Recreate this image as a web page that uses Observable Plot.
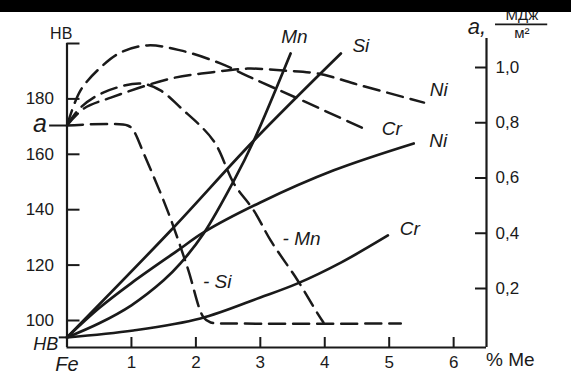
<!DOCTYPE html>
<html><head><meta charset="utf-8">
<script src="https://cdn.jsdelivr.net/npm/d3@7"></script>
<script src="https://cdn.jsdelivr.net/npm/@observablehq/plot@0.6"></script>
<style>
html,body{margin:0;padding:0;background:#fff;}
#wrap{position:relative;width:571px;height:387px;overflow:hidden;}
#bar{position:absolute;left:0;top:0;width:571px;height:12px;background:#000;}
</style></head><body>
<div id="wrap"><div id="chart"></div><div id="bar"></div></div>
<script>
// ---- axis ticks ----
const hbTicks = [100, 120, 140, 160, 180, 200];
const hbTickLabels = ["100", "120", "140", "160", "180", ""];
const aTicks = [0.2, 0.4, 0.6, 0.8, 1.0];
const aTickLabels = ["0,2", "0,4", "0,6", "0,8", "1,0"];
const xTicks = [1, 2, 3, 4, 5, 6];
const xTickLabels = ["1", "2", "3", "4", "5", "6"];

// ---- hardness HB (solid lines), x = % alloying element ----
const mnX = [0, 0.5, 1, 1.5, 1.76, 2.12, 2.59, 2.9, 3.47];
const mnHB = [93.9, 99, 105.5, 114.5, 120.6, 131.4, 150.5, 165.0, 196.4];
const siX = [0, 1.61, 2.9, 4.25];
const siHB = [93.9, 132.5, 165.0, 196.4];
const niX = [0, 0.5, 1, 1.72, 2.12, 3.0, 4.14, 5.38];
const niHB = [93.9, 104.5, 113.5, 125.3, 131.8, 142.6, 154.2, 163.9];
const crX = [0, 1.03, 2.07, 3.0, 3.58, 4.25, 4.98];
const crHB = [93.9, 96.4, 100.7, 108.3, 113.4, 120.9, 130.7];

// ---- impact toughness a, MJ/m2 (dashed lines) ----
const crAX = [0, 0.21, 0.52, 0.83, 1.25, 1.76, 2.38, 2.85, 3.58, 4.67];
const crA = [0.79, 0.917, 1.0, 1.054, 1.08, 1.062, 1.015, 0.964, 0.888, 0.772];
const niAX = [0, 0.26, 0.68, 1.61, 2.23, 2.8, 3.36, 3.89, 4.56, 5.54];
const niA = [0.79, 0.851, 0.891, 0.96, 0.982, 0.996, 0.989, 0.978, 0.935, 0.873];
const mnAX = [0, 0.21, 0.57, 1.14, 1.45, 1.76, 2.27, 2.59, 2.9, 3.16, 3.58, 3.89, 3.98];
const mnA = [0.79, 0.855, 0.91, 0.942, 0.917, 0.855, 0.736, 0.58, 0.482, 0.374, 0.229, 0.109, 0.077];
const siAX = [0, 0.94, 1.03, 1.19, 1.56, 1.87, 2.12, 2.23, 2.6, 5.18];
const siA = [0.79, 0.79, 0.772, 0.689, 0.482, 0.276, 0.095, 0.077, 0.0735, 0.0733];

// ---- curve labels ----
const solidLabelText = ["Mn", "Si", "Ni", "Cr"];
const solidLabelX = [3.53, 4.56, 5.76, 5.32];
const solidLabelHB = [202.3, 199.3, 165, 133.2];
const dashLabelText = ["Ni", "Cr", "- Mn", "- Si"];
const dashLabelX = [5.77, 5.04, 3.64, 2.33];
const dashLabelA = [0.92, 0.779, 0.381, 0.225];

// alignment of the right axis (a) with the left axis (HB)
const aToHB = a => 91.606 + 99.73 * a;

const xMax = 6.51, hbMin = 90.25, hbMax = 200;

const solid = [
  [mnX, mnHB], [siX, siHB], [niX, niHB], [crX, crHB]
].map(([xs, ys]) => xs.map((x, i) => ({x, y: ys[i]})));
const dashed = [
  [crAX, crA], [niAX, niA], [mnAX, mnA], [siAX, siA]
].map(([xs, as]) => xs.map((x, i) => ({x, y: aToHB(as[i])})));

const solidLabels = solidLabelText.map((t, i) => ({t, x: solidLabelX[i], y: solidLabelHB[i]}));
const dashLabels = dashLabelText.map((t, i) => ({t, x: dashLabelX[i], y: aToHB(dashLabelA[i])}));

const ink = "#1a1a1a";
const fontFam = "'Liberation Sans', 'DejaVu Sans', sans-serif";

const marks = [
  // frame lines
  Plot.ruleX([0], {y1: hbMin, y2: hbMax, stroke: ink, strokeWidth: 2.2}),
  Plot.ruleX([xMax], {y1: hbMin, y2: 201.8, stroke: ink, strokeWidth: 2.2}),
  Plot.ruleY([hbMin], {x1: 0, x2: xMax, stroke: ink, strokeWidth: 2.2}),
  // axes
  Plot.axisY(hbTicks, {anchor: "left", tickSize: 13, dx: 13, tickPadding: 13, strokeWidth: 2,
    stroke: ink, fill: ink, fontSize: 17, label: null,
    tickFormat: d => hbTickLabels[hbTicks.indexOf(d)]}),
  Plot.axisY(aTicks.map(aToHB), {anchor: "right", tickSize: 12, dx: -12, tickPadding: 9, strokeWidth: 2,
    stroke: ink, fill: ink, fontSize: 17, label: null,
    tickFormat: d => aTickLabels[aTicks.findIndex(a => Math.abs(aToHB(a) - d) < 1e-6)]}),
  Plot.axisX(xTicks, {anchor: "bottom", tickSize: 10, dy: -10, tickPadding: 8, strokeWidth: 2,
    stroke: ink, fill: ink, fontSize: 17, label: null,
    tickFormat: d => xTickLabels[xTicks.indexOf(d)]}),
  // small outward dashes at "a" and origin "HB"
  Plot.ruleY([aToHB(0.79)], {x1: -0.27, x2: 0, stroke: ink, strokeWidth: 2}),
  Plot.ruleY([93.9], {x1: -0.12, x2: 0, stroke: ink, strokeWidth: 2}),
  // curves
  ...solid.map(d => Plot.line(d, {x: "x", y: "y", curve: "catmull-rom", stroke: ink, strokeWidth: 2.7})),
  ...dashed.map(d => Plot.line(d, {x: "x", y: "y", curve: "catmull-rom", stroke: ink, strokeWidth: 2.5,
    strokeDasharray: "16,8"})),
  // curve labels
  Plot.text(solidLabels, {x: "x", y: "y", text: "t", fontSize: 19, fontStyle: "italic", fill: ink}),
  Plot.text(dashLabels, {x: "x", y: "y", text: "t", fontSize: 19, fontStyle: "italic", fill: ink}),
  // axis titles
  Plot.text(["HB"], {x: -0.09, y: 203.4, text: d => d, fontSize: 16, fill: ink, letterSpacing: 2}),
  Plot.text(["HB"], {x: -0.33, y: 91.5, text: d => d, fontSize: 18, fontStyle: "italic", fill: ink}),
  Plot.text(["a"], {x: -0.42, y: 170.8, text: d => d, fontSize: 25, fontStyle: "italic", fill: ink}),
  Plot.text(["Fe"], {x: 0, y: 84.0, text: d => d, fontSize: 20, fontStyle: "italic", fill: ink}),
  Plot.text(["% Me"], {x: 6.88, y: 85.6, text: d => d, fontSize: 19, fill: ink, letterSpacing: 1.5}),
  Plot.text(["a,"], {x: 6.36, y: 206.1, text: d => d, fontSize: 22, fontStyle: "italic", fill: ink}),
  Plot.text(["МДж"], {x: 7.06, y: 210.4, text: d => d, fontSize: 15, fill: ink}),
  Plot.text(["м²"], {x: 7.06, y: 203.6, text: d => d, fontSize: 15, fill: ink}),
  Plot.ruleY([206.9], {x1: 6.65, x2: 7.46, stroke: ink, strokeWidth: 1.8})
];

const chart = Plot.plot({
  width: 571,
  height: 387,
  marginLeft: 66.5,
  marginRight: 85,
  marginTop: 43,
  marginBottom: 40,
  style: {fontFamily: fontFam, fontSize: "15px", background: "#fff", color: ink, overflow: "visible"},
  x: {domain: [0, xMax]},
  y: {domain: [hbMin, hbMax]},
  marks
});
document.getElementById("chart").appendChild(chart);
</script>
</body></html>
